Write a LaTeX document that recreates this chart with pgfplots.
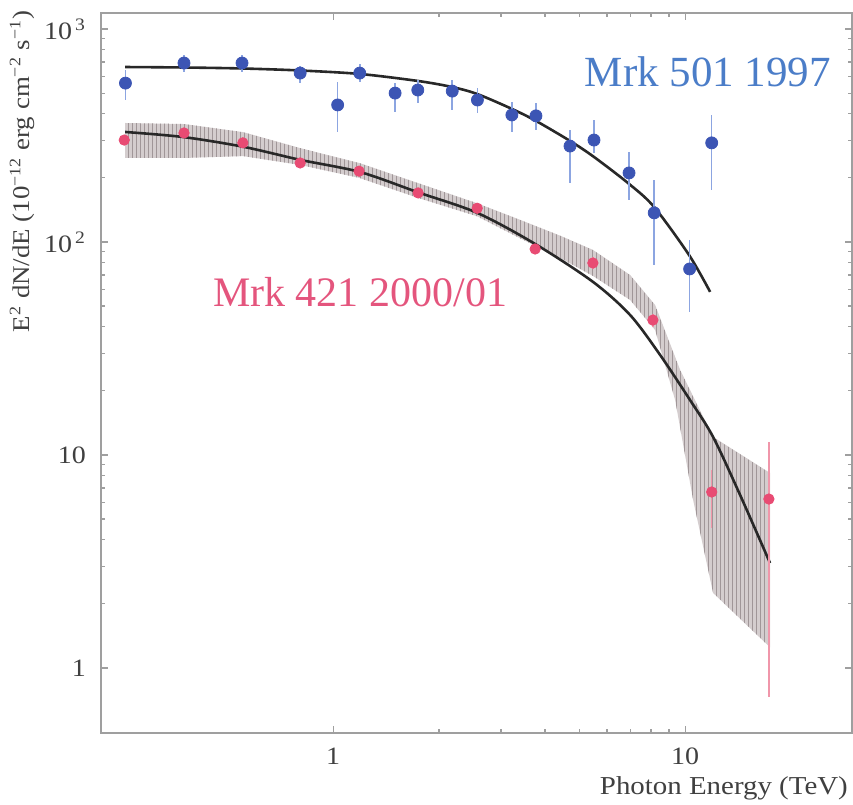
\documentclass[border=0pt]{standalone}
\usepackage{fontspec}
\setmainfont{Liberation Serif}
\newfontfamily\widefont{Liberation Serif}[FakeStretch=1.12]
\usepackage{pgfplots}
\pgfplotsset{compat=1.18}
\usetikzlibrary{patterns.meta,calc}
\definecolor{bluept}{RGB}{60,85,180}
\definecolor{blueerr}{RGB}{140,165,225}
\definecolor{redpt}{RGB}{232,75,115}
\definecolor{rederr}{RGB}{240,150,170}
\definecolor{bandfill}{RGB}{212,205,206}
\definecolor{bandline}{RGB}{160,150,152}
\definecolor{txtblue}{RGB}{75,125,200}
\definecolor{txtred}{RGB}{228,85,125}
\definecolor{curvec}{RGB}{40,40,40}
\begin{document}
\begin{tikzpicture}
\begin{axis}[
  name=ax, scale only axis, width=375.5pt, height=360pt,
  xmode=log, ymode=log,
  xmin=0.219, xmax=29.8, ymin=0.495, ymax=1189,
  xtick={1,10}, xticklabels={1,10},
  ytick={1,10,100,1000},
  yticklabels={1,10,10\textsuperscript{\,2},10\textsuperscript{\,3}},
  axis line style={gray!75, line width=0.8pt},
  tick style={gray!75, line width=0.6pt},
  major tick length=3.5pt, minor tick length=2pt,
  ticklabel style={font=\widefont\fontsize{12.5}{14}\selectfont, text=black!75},
  xticklabel style={yshift=-4pt},
  yticklabel style={xshift=-4pt},
]
% shaded band (Mrk 421)
\addplot[draw=none, fill=bandfill] coordinates {
(0.2565,362)(0.3773,358)(0.555,328)(0.806,276)(1.186,235)(1.744,189)(2.566,152)(3.40,127)(4.42,107)(5.478,91.7)(6.98,70)(8.22,50.6)(9.68,25.1)(12.01,12.15)(17.43,8.23)
(17.43,1.25)(12.01,2.25)(10.54,6.15)(9.37,18.1)(8.22,38.6)(6.98,53.4)(5.478,69.2)(4.42,84.1)(3.40,104)(2.566,132)(1.744,161)(1.186,200)(0.806,230)(0.555,253)(0.3773,248)(0.2565,248)
} -- cycle;
\addplot[draw=none, pattern={Lines[angle=90,distance=2pt,line width=0.4pt]}, pattern color=bandline] coordinates {
(0.2565,362)(0.3773,358)(0.555,328)(0.806,276)(1.186,235)(1.744,189)(2.566,152)(3.40,127)(4.42,107)(5.478,91.7)(6.98,70)(8.22,50.6)(9.68,25.1)(12.01,12.15)(17.43,8.23)
(17.43,1.25)(12.01,2.25)(10.54,6.15)(9.37,18.1)(8.22,38.6)(6.98,53.4)(5.478,69.2)(4.42,84.1)(3.40,104)(2.566,132)(1.744,161)(1.186,200)(0.806,230)(0.555,253)(0.3773,248)(0.2565,248)
} -- cycle;
% Mrk 421 fit curve
\addplot[curvec, line width=1.3pt, smooth] coordinates {
(0.2565,328.5)(0.375,311)(0.555,280)(0.806,243)(1.193,213)(1.744,171)(2.566,137)(3.749,97.9)(5.478,64.9)(6.98,45.4)(8.49,29.5)(10.33,18.1)(12.01,12.15)(14.33,6.49)(17.43,3.11)
};
% Mrk 421 data
\addplot[only marks, mark=*, mark size=2.6pt, mark options={fill=redpt, draw=redpt},
  error bars/.cd, y dir=both, y explicit,
  error bar style={color=rederr, line width=0.8pt}, error mark=none]
  table[x=x, y=y, y error plus=ep, y error minus=em] {
x y ep em
0.255 301 12 12
0.377 325 12 12
0.554 292 11 11
0.806 235 9 9
1.185 215 8 8
1.744 170 7 7
2.566 144 6 6
3.75 92.7 5 5
5.47 79.7 5 5
8.10 43.0 3 3
11.9 6.70 1.8 2.16
17.3 6.21 5.3 5.48
};
% Mrk 501 fit curve
\addplot[curvec, line width=1.3pt, smooth] coordinates {
(0.2565,663)(0.3773,659.6)(0.5512,652.6)(0.806,638.6)(1.193,614.9)(1.744,570.0)(2.178,534.1)(2.566,495.2)(3.225,421.1)(3.774,369.9)(4.713,298.0)(5.513,250.6)(6.933,187.3)(8.165,146.0)(10.26,86.9)(11.78,58.3)
};
% Mrk 501 data
\addplot[only marks, mark=*, mark size=3pt, mark options={fill=bluept, draw=bluept},
  error bars/.cd, y dir=both, y explicit,
  error bar style={color=blueerr, line width=0.8pt}, error mark=none]
  table[x=x, y=y, y error plus=ep, y error minus=em] {
x y ep em
0.257 557 85 93
0.377 692 63 64
0.551 692 63 64
0.806 621 49 64
1.03 440 124 112
1.19 621 64 57
1.50 500 57 92
1.74 517 59 67
2.18 511 65 94
2.57 464 64 61
3.22 395 59 67
3.77 391 59 55
4.71 282 54 93
5.51 301 73 39
6.93 211 54 54
8.17 137 58 59
10.3 74.7 27 28
11.9 292 103 117
};
\node[font=\fontsize{21.5}{24}\selectfont, text=txtblue] at (rel axis cs:0.808,0.918) {Mrk 501 1997};
\node[font=\fontsize{21}{24}\selectfont, text=txtred] at (rel axis cs:0.345,0.6125) {Mrk 421 2000/01};
\end{axis}
\node[rotate=90, font=\widefont\fontsize{12}{14}\selectfont, text=black!75] at ([xshift=-39.5pt]$(ax.south west)!0.78!(ax.north west)$) {E\textsuperscript{2} dN/dE (10\textsuperscript{−12} erg cm\textsuperscript{−2} s\textsuperscript{−1})};
\node[anchor=base west, font=\widefont\fontsize{12.9}{15}\selectfont, text=black!75] at ([yshift=-31pt]$(ax.south west)!0.655!(ax.south east)$) {Photon Energy (TeV)};
\pgfresetboundingbox
\path[use as bounding box] ([xshift=-50.5pt,yshift=-36pt]ax.south west) rectangle ([xshift=0.5pt,yshift=6.5pt]ax.north east);
\end{tikzpicture}
\end{document}
